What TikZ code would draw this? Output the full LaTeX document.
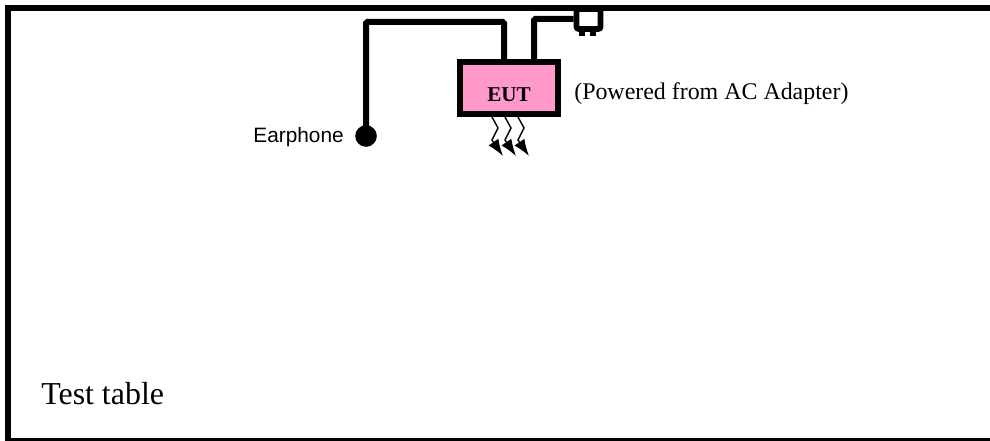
\documentclass[tikz,border=0pt]{standalone}
\usepackage{fontspec}
\setmainfont{Liberation Serif}
\newfontfamily\labelsans{Liberation Sans}
\usetikzlibrary{arrows.meta,calc}
\definecolor{EutPink}{RGB}{255,153,204}
\tikzset{
  eut/table/.style={draw=black, line width=0.15cm, fill=white, minimum width=24.8cm, minimum height=10.83cm, inner sep=0pt},
  eut/box/.style={draw=black, line width=0.16cm, fill=EutPink, minimum width=2.45cm, minimum height=1.3cm, inner sep=0pt},
  eut/phone/.style={circle, fill=black, minimum size=0.54cm, inner sep=0pt},
  eut/plug/.style={draw=black, line width=0.14cm, fill=white, rounded corners=1.5pt, minimum width=0.6cm, minimum height=0.5cm, inner sep=0pt},
  eut/cable/.style={line width=0.15cm, draw=black, rounded corners=1pt},
  eut/prong/.style={fill=black, minimum width=0.15cm, minimum height=0.16cm, inner sep=0pt},
  eut/emit/.style={-{Latex[length=0.42cm,width=0.3cm]}, line width=1pt, draw=black},
  eut/title/.style={font=\bfseries\fontsize{15}{15}\selectfont, text=black},
  eut/note/.style={font=\fontsize{17}{17}\selectfont, text=black, inner sep=0pt},
  eut/side/.style={font=\labelsans\fontsize{14.8}{14.8}\selectfont, text=black, inner sep=0pt},
  eut/big/.style={font=\fontsize{22.7}{22.7}\selectfont, text=black, inner sep=0pt}
}
\begin{document}
\begin{tikzpicture}[x=0.025cm,y=-0.025cm]
  \useasboundingbox (0,0) rectangle (990,440);
  \node[eut/table] (table) at (504.5,224.5) {};
  \node[eut/box] (box) at (509,88) {};
  \node[eut/title] (name) at (509,95) {EUT};
  \node[eut/phone] (phone) at (366,136) {};
  \node[eut/plug] (plug) at (588.5,19) {};
  \node[eut/prong] (prongl) at (582,33) {};
  \node[eut/prong] (prongr) at (592.5,33) {};
  \node[eut/side,anchor=east] (phonelabel) at (344,137) {Earphone};
  \node[eut/note,anchor=west] (power) at (574,94) {(Powered from AC Adapter)};
  \node[eut/big,anchor=west] (tablelabel) at (41,394) {Test table};
  % cables
  \draw[eut/cable] (phone.center) |- (504,22) -- (504,62);
  \draw[eut/cable] (534,62) |- (plug.west);
  % emission
  \foreach \n/\x in {a/492,b/505,c/518}
  {
    \coordinate (emit\n) at (\x,117);
    \draw[eut/emit] (emit\n) -- ++(6,11) -- ++(-6,12) -- ++(11,16);
  }
\end{tikzpicture}
\end{document}
